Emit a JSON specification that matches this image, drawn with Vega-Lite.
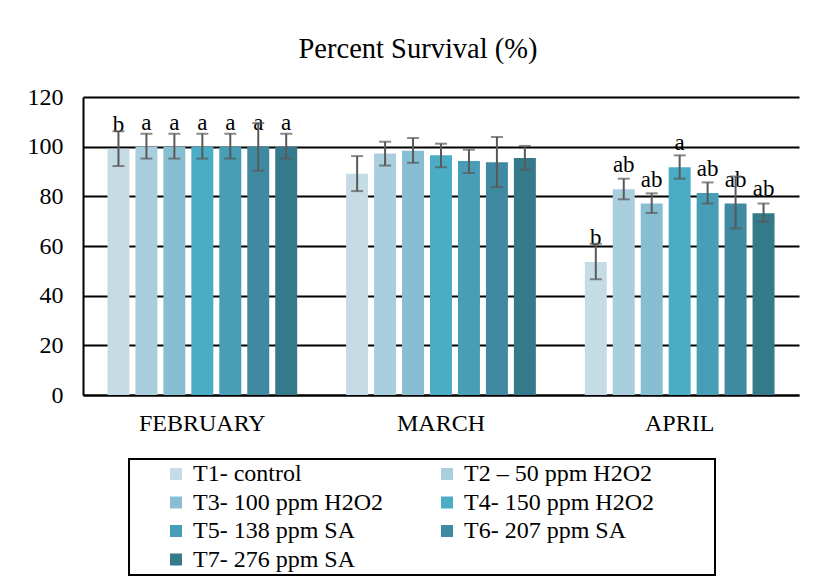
{
  "$schema": "https://vega.github.io/schema/vega-lite/v6.json",
  "autosize": "none",
  "width": 716,
  "height": 298,
  "padding": {"left": 83, "top": 97, "right": 19, "bottom": 193},
  "background": "white",
  "config": {"view": {"stroke": null}},
  "title": {"text": "Percent Survival (%)", "font": "Liberation Serif", "fontSize": 28.5, "fontWeight": "normal", "color": "black", "offset": 22, "dx": -23},
  "datasets": {
    "survival": [
      {"month": "FEBRUARY", "trt": "T1- control", "mean": 99.2, "lo": 92.2, "hi": 106.2, "letter": "b"},
      {"month": "FEBRUARY", "trt": "T2 – 50 ppm H2O2", "mean": 100, "lo": 95.2, "hi": 105.2, "letter": "a"},
      {"month": "FEBRUARY", "trt": "T3- 100 ppm H2O2", "mean": 100, "lo": 95.2, "hi": 105.2, "letter": "a"},
      {"month": "FEBRUARY", "trt": "T4- 150 ppm H2O2", "mean": 100, "lo": 95.2, "hi": 105.2, "letter": "a"},
      {"month": "FEBRUARY", "trt": "T5- 138 ppm SA", "mean": 100, "lo": 95.2, "hi": 105.2, "letter": "a"},
      {"month": "FEBRUARY", "trt": "T6- 207 ppm SA", "mean": 100, "lo": 90.3, "hi": 109.5, "letter": "a"},
      {"month": "FEBRUARY", "trt": "T7- 276 ppm SA", "mean": 100, "lo": 95.2, "hi": 105.2, "letter": "a"},
      {"month": "MARCH", "trt": "T1- control", "mean": 89.1, "lo": 82.1, "hi": 96.2, "letter": ""},
      {"month": "MARCH", "trt": "T2 – 50 ppm H2O2", "mean": 97.2, "lo": 92.4, "hi": 102, "letter": ""},
      {"month": "MARCH", "trt": "T3- 100 ppm H2O2", "mean": 98.4, "lo": 93.5, "hi": 103.5, "letter": ""},
      {"month": "MARCH", "trt": "T4- 150 ppm H2O2", "mean": 96.5, "lo": 91.7, "hi": 101.2, "letter": ""},
      {"month": "MARCH", "trt": "T5- 138 ppm SA", "mean": 94.2, "lo": 89.4, "hi": 98.8, "letter": ""},
      {"month": "MARCH", "trt": "T6- 207 ppm SA", "mean": 93.7, "lo": 83.7, "hi": 103.9, "letter": ""},
      {"month": "MARCH", "trt": "T7- 276 ppm SA", "mean": 95.4, "lo": 90.7, "hi": 100.3, "letter": ""},
      {"month": "APRIL", "trt": "T1- control", "mean": 53.6, "lo": 46.6, "hi": 60.9, "letter": "b"},
      {"month": "APRIL", "trt": "T2 – 50 ppm H2O2", "mean": 82.9, "lo": 78.8, "hi": 87.1, "letter": "ab"},
      {"month": "APRIL", "trt": "T3- 100 ppm H2O2", "mean": 77.1, "lo": 73.3, "hi": 81.2, "letter": "ab"},
      {"month": "APRIL", "trt": "T4- 150 ppm H2O2", "mean": 91.7, "lo": 87.1, "hi": 96.5, "letter": "a"},
      {"month": "APRIL", "trt": "T5- 138 ppm SA", "mean": 81.3, "lo": 77.1, "hi": 85.6, "letter": "ab"},
      {"month": "APRIL", "trt": "T6- 207 ppm SA", "mean": 77.1, "lo": 67.1, "hi": 88, "letter": "ab"},
      {"month": "APRIL", "trt": "T7- 276 ppm SA", "mean": 73.2, "lo": 69.8, "hi": 77.1, "letter": "ab"}
    ]
  },
  "data": {"name": "survival"},
  "encoding": {
    "x": {
      "field": "month", "type": "nominal", "sort": ["FEBRUARY", "MARCH", "APRIL"],
      "scale": {"paddingInner": 0.18, "paddingOuter": 0.09},
      "axis": {"title": null, "labelAngle": 0, "ticks": false, "domainColor": "black", "domainWidth": 2, "labelFont": "Liberation Serif", "labelFontSize": 24, "labelColor": "black", "labelPadding": 16, "grid": false}
    },
    "xOffset": {
      "field": "trt", "type": "nominal",
      "sort": ["T1- control", "T2 – 50 ppm H2O2", "T3- 100 ppm H2O2", "T4- 150 ppm H2O2", "T5- 138 ppm SA", "T6- 207 ppm SA", "T7- 276 ppm SA"],
      "scale": {"paddingInner": 0.214, "paddingOuter": 0.107}
    }
  },
  "layer": [
    {
      "mark": {"type": "bar"},
      "encoding": {
        "y": {
          "field": "mean", "type": "quantitative",
          "scale": {"domain": [0, 120], "nice": false},
          "axis": {"title": null, "values": [0, 20, 40, 60, 80, 100, 120], "ticks": false, "grid": true, "gridColor": "black", "gridWidth": 2, "gridOpacity": 1, "domainColor": "black", "domainWidth": 2, "labelFont": "Liberation Serif", "labelFontSize": 24, "labelColor": "black", "labelPadding": 20}
        },
        "color": {
          "field": "trt", "type": "nominal",
          "sort": ["T1- control", "T2 – 50 ppm H2O2", "T3- 100 ppm H2O2", "T4- 150 ppm H2O2", "T5- 138 ppm SA", "T6- 207 ppm SA", "T7- 276 ppm SA"],
          "scale": {
            "domain": ["T1- control", "T2 – 50 ppm H2O2", "T3- 100 ppm H2O2", "T4- 150 ppm H2O2", "T5- 138 ppm SA", "T6- 207 ppm SA", "T7- 276 ppm SA"],
            "range": ["#C6DCE5", "#A9CEDD", "#88BED1", "#4BACC6", "#479EB6", "#3F8AA0", "#347A8A"]
          },
          "legend": {
            "orient": "none", "legendX": 46, "legendY": 362, "columns": 2, "direction": "horizontal",
            "title": " ", "titleOrient": "right", "titlePadding": 58, "titleFontSize": 1,
            "symbolType": "square", "symbolSize": 144, "symbolStrokeWidth": 0,
            "labelFont": "Liberation Serif", "labelFontSize": 24, "labelColor": "black", "labelLimit": 400,
            "strokeColor": "black", "padding": 3, "rowPadding": 4.5, "columnPadding": 20,
            "symbolOffset": 32, "labelOffset": 5,
            "encode": {"legend": {"update": {"strokeWidth": {"value": 2}}}}
          }
        }
      }
    },
    {
      "mark": {"type": "text", "dy": -17, "baseline": "alphabetic", "font": "Liberation Serif", "fontSize": 23, "color": "black"},
      "encoding": {"y": {"field": "mean", "type": "quantitative"}, "text": {"field": "letter"}}
    },
    {
      "mark": {"type": "rule", "color": "#595959", "strokeWidth": 2},
      "encoding": {"y": {"field": "lo", "type": "quantitative"}, "y2": {"field": "hi"}}
    },
    {
      "mark": {"type": "tick", "color": "#595959", "thickness": 2, "size": 12},
      "encoding": {"y": {"field": "lo", "type": "quantitative"}}
    },
    {
      "mark": {"type": "tick", "color": "#595959", "thickness": 2, "size": 12},
      "encoding": {"y": {"field": "hi", "type": "quantitative"}}
    }
  ]
}
